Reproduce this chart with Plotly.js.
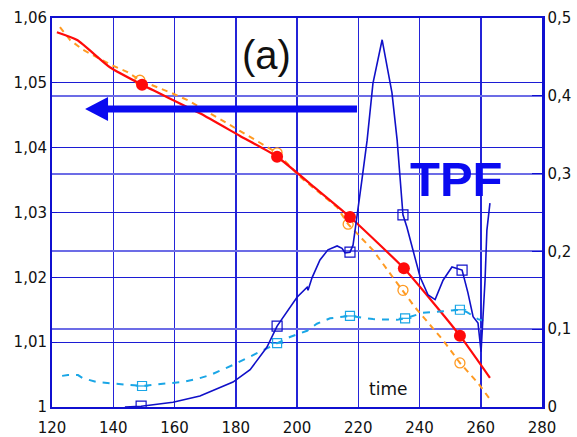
<!DOCTYPE html>
<html>
<head>
<meta charset="utf-8">
<script src="https://cdn.plot.ly/plotly-3.0.1.min.js"></script>
<style>html,body{margin:0;padding:0;background:#fff;}#chart{width:577px;height:437px;}</style>
</head>
<body>
<div id="chart"></div>
<script>
// Red solid curve (left axis)
const redX = [121.6, 128.2, 138.9, 149.4, 168.3, 181.4, 193.5, 205.9, 217.3, 234.9, 243.4, 253.2, 263.0];
const redY = [1.0578, 1.0566, 1.0524, 1.0497, 1.0453, 1.0418, 1.0386, 1.0338, 1.0293, 1.0214, 1.0167, 1.0110, 1.0045];
const redMarkX = [149.4, 193.5, 217.3, 234.9, 253.2];
const redMarkY = [1.0497, 1.0386, 1.0293, 1.0214, 1.0110];

// Orange dashed curve (left axis)
const orangeX = [122.6, 125.9, 130.1, 139.6, 144.5, 148.7, 159.2, 164.4, 178.1, 186.3, 193.5, 201.0, 213.1, 216.7, 224.8, 232.7, 238.5, 247.7, 253.2, 259.1, 262.7];
const orangeY = [1.0586, 1.0566, 1.0551, 1.0527, 1.0517, 1.0504, 1.0484, 1.0473, 1.0435, 1.0412, 1.0392, 1.0355, 1.0308, 1.0282, 1.0242, 1.0191, 1.0154, 1.0103, 1.0068, 1.0037, 1.0014];
const orangeMarkX = [148.7, 193.5, 216.7, 234.6, 253.2];
const orangeMarkY = [1.0504, 1.0392, 1.0282, 1.0180, 1.0068];

// Dark blue solid curve (right axis)
const blueX = [143.8, 149.1, 159.5, 168.3, 179.1, 184.7, 190.2, 193.5, 200.0, 203.3, 203.6, 204.9, 207.5, 210.1, 213.1, 214.7, 215.7, 217.3, 218.3, 219.6, 221.2, 222.9, 224.8, 227.8, 229.4, 231.0, 232.7, 234.6, 235.9, 240.2, 242.8, 245.1, 247.7, 250.6, 253.9, 255.8, 257.5, 259.1, 260.1, 260.7, 261.4, 262.0, 263.0];
const blueY = [0.000, 0.001, 0.006, 0.014, 0.032, 0.048, 0.077, 0.104, 0.141, 0.154, 0.150, 0.166, 0.189, 0.202, 0.207, 0.204, 0.198, 0.199, 0.208, 0.244, 0.292, 0.343, 0.416, 0.472, 0.437, 0.404, 0.343, 0.247, 0.231, 0.167, 0.144, 0.138, 0.163, 0.180, 0.176, 0.147, 0.116, 0.108, 0.071, 0.112, 0.163, 0.227, 0.262];
const blueMarkX = [149.1, 193.5, 217.3, 234.6, 253.9];
const blueMarkY = [0.001, 0.104, 0.199, 0.247, 0.176];

// Light blue dashed curve (right axis)
const cyanX = [123.3, 125.2, 128.5, 130.1, 134.7, 141.2, 149.4, 156.2, 162.4, 167.3, 171.6, 179.1, 187.9, 193.5, 197.7, 203.3, 206.5, 210.8, 217.3, 224.8, 232.7, 235.3, 241.1, 247.7, 253.2, 255.5, 259.1, 262.4];
const cyanY = [0.040, 0.041, 0.041, 0.037, 0.032, 0.030, 0.027, 0.030, 0.032, 0.036, 0.041, 0.054, 0.071, 0.082, 0.090, 0.098, 0.107, 0.114, 0.117, 0.113, 0.112, 0.114, 0.121, 0.123, 0.125, 0.122, 0.113, 0.109];
const cyanMarkX = [149.4, 193.5, 217.3, 235.3, 253.2];
const cyanMarkY = [0.027, 0.082, 0.117, 0.114, 0.125];

// Axis ticks
const xTicks = [120, 140, 160, 180, 200, 220, 240, 260, 280];
const yLeftTicks = [1, 1.01, 1.02, 1.03, 1.04, 1.05, 1.06];
const yLeftText = ['1', '1,01', '1,02', '1,03', '1,04', '1,05', '1,06'];
const yRightTicks = [0, 0.1, 0.2, 0.3, 0.4, 0.5];
const yRightText = ['0', '0,1', '0,2', '0,3', '0,4', '0,5'];

const RED = '#ff0a0a', ORANGE = '#ff9a22', BLUE = '#1010c8', CYAN = '#1aa6e6';

const traces = [
  {x: orangeX, y: orangeY, mode: 'lines', line: {color: ORANGE, width: 2, dash: '6px,5px'}, yaxis: 'y', hoverinfo: 'skip'},
  {x: orangeMarkX, y: orangeMarkY, mode: 'markers', marker: {symbol: 'circle-open', size: 10, color: ORANGE, line: {width: 1.3, color: ORANGE}}, yaxis: 'y'},
  {x: redX, y: redY, mode: 'lines', line: {color: RED, width: 2.2, shape: 'spline', smoothing: 0.5}, yaxis: 'y'},
  {x: redMarkX, y: redMarkY, mode: 'markers', marker: {symbol: 'circle', size: 12, color: RED}, yaxis: 'y'},
  {x: cyanX, y: cyanY, mode: 'lines', line: {color: CYAN, width: 2, dash: '7px,7px'}, yaxis: 'y2'},
  {x: cyanMarkX, y: cyanMarkY, mode: 'markers', marker: {symbol: 'square-open', size: 9, color: CYAN, line: {width: 1.2, color: CYAN}}, yaxis: 'y2'},
  {x: cyanMarkX, y: cyanMarkY, mode: 'markers', marker: {symbol: 'line-ew-open', size: 9, color: CYAN, line: {width: 1.2, color: CYAN}}, yaxis: 'y2'},
  {x: blueX, y: blueY, mode: 'lines', line: {color: BLUE, width: 1.6}, yaxis: 'y2'},
  {x: blueMarkX, y: blueMarkY, mode: 'markers', marker: {symbol: 'square-open', size: 10, color: BLUE, line: {width: 1.2, color: BLUE}}, yaxis: 'y2'}
];

const tickFont = {family: 'DejaVu Sans, Liberation Sans, Arial', size: 15, color: '#111'};

const layout = {
  width: 577, height: 437,
  margin: {l: 52, r: 35, t: 18, b: 30, pad: 0},
  paper_bgcolor: '#fff', plot_bgcolor: '#fff',
  showlegend: false,
  separators: ', ',
  xaxis: {
    range: [120, 280], tickvals: xTicks, ticktext: xTicks.map(String),
    showgrid: true, gridcolor: '#2424d8', gridwidth: 1.5,
    showline: true, linecolor: '#1010d0', linewidth: 2, mirror: true,
    zeroline: false, ticks: '', tickfont: tickFont, ticklabelstandoff: 6
  },
  yaxis: {
    range: [1, 1.06], tickvals: yLeftTicks, ticktext: yLeftText,
    showgrid: true, gridcolor: '#1c1cd4', gridwidth: 1.2,
    showline: true, linecolor: '#1010d0', linewidth: 2,
    zeroline: false, ticks: 'inside', ticklen: 5, tickcolor: '#1010d0', tickfont: tickFont
  },
  yaxis2: {
    range: [0, 0.5], tickvals: yRightTicks, ticktext: yRightText,
    overlaying: 'y', side: 'right',
    showgrid: true, gridcolor: '#6c6ce6', gridwidth: 2,
    showline: true, linecolor: '#1010d0', linewidth: 2.5,
    zeroline: false, ticks: 'inside', ticklen: 10, tickcolor: '#1010d0', tickfont: tickFont
  },
  shapes: [
    {type: 'path', xref: 'x', yref: 'y', fillcolor: '#0a0af0', line: {width: 0},
     path: 'M 219.6,1.04650 L 138.3,1.04650 L 138.3,1.04781 L 130.8,1.04596 L 138.3,1.04411 L 138.3,1.04542 L 219.6,1.04542 Z'}
  ],
  annotations: [
    {text: '(a)', xref: 'paper', yref: 'paper', x: (266 - 52) / 490, y: (407 - 55) / 389,
     xanchor: 'center', yanchor: 'middle', showarrow: false,
     font: {family: 'Liberation Sans, Arial', size: 40, color: '#111'}},
    {text: '<b>TPF</b>', xref: 'paper', yref: 'paper', x: (456 - 52) / 490, y: (407 - 179) / 389,
     xanchor: 'center', yanchor: 'middle', showarrow: false,
     font: {family: 'Liberation Sans, Arial', size: 49, color: '#0a0af0'}},
    {text: 'time', xref: 'paper', yref: 'paper', x: (388 - 52) / 490, y: (407 - 389) / 389,
     xanchor: 'center', yanchor: 'middle', showarrow: false,
     font: {family: 'DejaVu Sans, Liberation Sans, Arial', size: 17, color: '#111'}}
  ]
};

Plotly.newPlot('chart', traces, layout, {staticPlot: true, displayModeBar: false});
</script>
</body>
</html>
